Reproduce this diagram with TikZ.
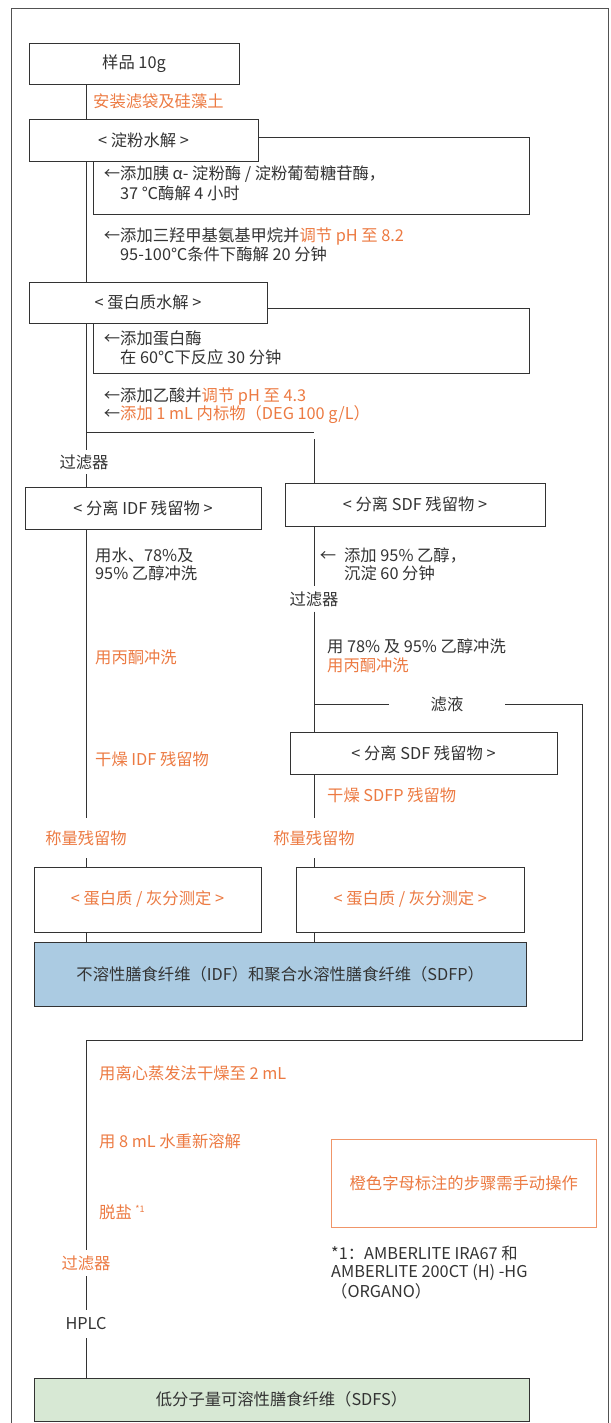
\documentclass[tikz,border=0pt]{standalone}
\usepackage{fontspec}
\setmainfont{Noto Sans CJK SC}
\usetikzlibrary{calc}
\definecolor{org}{HTML}{EC7A42}
\definecolor{lc}{HTML}{333333}
\definecolor{bluef}{HTML}{ABCBE2}
\definecolor{greenf}{HTML}{D7E8D4}
\begin{document}
\begin{tikzpicture}[x=1pt,y=-1pt,
  every node/.style={font=\fontsize{16.3}{19}\selectfont, text=lc},
  stepbox/.style={draw=lc, line width=0.9pt, fill=white, inner sep=0pt},
  notebox/.style={draw=lc, line width=0.9pt, fill=white, inner sep=0pt},
  txt/.style={anchor=west, inner sep=0pt},
  o/.style={text=org},
  ln/.style={draw=lc, line width=0.9pt},
  onl/.style={inner xsep=0pt, inner ysep=#1},
]
\useasboundingbox (0,0) rectangle (610,1423);
\draw[draw=lc!85, line width=0.9pt] (11,8) rectangle (608.5,1445);

\coordinate (mx) at (86,0);
\coordinate (rx) at (314,0);

% note boxes
\node[notebox, minimum width=436pt, minimum height=77pt] (nb1) at (311,175.5) {};
\node[notebox, minimum width=436pt, minimum height=65pt] (nb2) at (311,340.5) {};

% main boxes
\node[stepbox, minimum width=210pt, minimum height=41pt] (s1) at (134,63.5) {样品 10g};
\node[stepbox, minimum width=229pt, minimum height=42pt] (s2) at (143.5,140) {< 淀粉水解 >};
\node[stepbox, minimum width=238pt, minimum height=41pt] (s3) at (148,302.5) {< 蛋白质水解 >};
\node[stepbox, minimum width=236pt, minimum height=42pt] (idf) at (143,508) {< 分离 IDF 残留物 >};
\node[stepbox, minimum width=260pt, minimum height=43pt] (sdf) at (415,504.5) {< 分离 SDF 残留物 >};
\node[stepbox, minimum width=267pt, minimum height=42pt] (sdf2) at (423.5,753) {< 分离 SDF 残留物 >};
\node[stepbox, minimum width=227pt, minimum height=65pt, text=org] (p1) at (147.5,899.5) {< 蛋白质 / 灰分测定 >};
\node[stepbox, minimum width=227.5pt, minimum height=65pt, text=org] (p2) at (410.25,899.5) {< 蛋白质 / 灰分测定 >};
\node[stepbox, fill=bluef, minimum width=492.5pt, minimum height=64pt] (blue) at (280.25,974) {不溶性膳食纤维（IDF）和聚合水溶性膳食纤维（SDFP）};
\node[stepbox, fill=greenf, minimum width=495pt, minimum height=43pt] (green) at (281.5,1399.5) {低分子量可溶性膳食纤维（SDFS）};
\node[stepbox, draw=org!80, text=org, minimum width=264.5pt, minimum height=88pt] (man) at (463.75,1183) {橙色字母标注的步骤需手动操作};

% labels placed on the lines
\node[onl=4.5pt] (filt1) at (84,462) {过滤器};
\node[onl=5pt] (filt2) at (314,599) {过滤器};
\node[onl=12.5pt, text=org] (wl) at (86,838) {称量残留物};
\node[onl=12.5pt, text=org] (wr) at (314,838) {称量残留物};
\node[inner ysep=0pt, inner xsep=41.5pt] (ly) at (447,704) {滤液};
\node[onl=5.5pt, text=org] (filt3) at (86,1263) {过滤器};
\node[onl=8pt] (hplc) at (86,1324) {HPLC};

% connectors
\coordinate (j1) at (86,432);
\coordinate (j1r) at (314,432);
\coordinate (j1d) at (314,439);
\coordinate (j2) at (314,704);
\coordinate (c1) at (582,704);
\coordinate (c2) at (582,1040);
\coordinate (c3) at (86,1040);
\draw[ln] (s1.south -| mx) -- (s2.north -| mx);
\draw[ln] (s2.south -| mx) -- (s3.north -| mx);
\draw[ln] (s3.south -| mx) -- (j1) -- (j1r);
\draw[ln] (j1) -- (filt1.north -| mx);
\draw[ln] (filt1.south -| mx) -- (idf.north -| mx);
\draw[ln] (j1d) -- (sdf.north -| rx);
\draw[ln] (idf.south -| mx) -- (wl.north -| mx);
\draw[ln] (wl.south -| mx) -- (p1.north -| mx);
\draw[ln] (p1.south -| mx) -- (blue.north -| mx);
\draw[ln] (sdf.south -| rx) -- (filt2.north -| rx);
\draw[ln] (filt2.south -| rx) -- (sdf2.north -| rx);
\draw[ln] (j2) -- (ly.west);
\draw[ln] (ly.east) -- (c1) -- (c2) -- (c3) -- (filt3.north -| mx);
\draw[ln] (sdf2.south -| rx) -- (wr.north -| rx);
\draw[ln] (wr.south -| rx) -- (p2.north -| rx);
\draw[ln] (p2.south -| rx) -- (blue.north -| rx);
\draw[ln] (filt3.south -| mx) -- (hplc.north -| mx);
\draw[ln] (hplc.south -| mx) -- (green.north -| mx);

% texts
\node[txt, o] (t0) at (93,101) {安装滤袋及硅藻土};
\node[txt] (t1) at (120,174) {\llap{←}添加胰 α- 淀粉酶 / 淀粉葡萄糖苷酶，};
\node[txt] (t2) at (120,193) {37 ℃酶解 4 小时};
\node[txt] (t3) at (120,236) {\llap{←}添加三羟甲基氨基甲烷并\textcolor{org}{调节 pH 至 8.2}};
\node[txt] (t4) at (120,254) {95-100℃条件下酶解 20 分钟};
\node[txt] (t5) at (120,338) {\llap{←}添加蛋白酶};
\node[txt] (t6) at (120,357) {在 60℃下反应 30 分钟};
\node[txt] (t7) at (120,396) {\llap{←}添加乙酸并\textcolor{org}{调节 pH 至 4.3}};
\node[txt] (t8) at (120,415) {\llap{←}\textcolor{org}{添加 1 mL 内标物（DEG 100 g/L）}};
\node[txt] (t9) at (95,555) {用水、78\%及};
\node[txt] (t10) at (95,573) {95\% 乙醇冲洗};
\node[txt] (t11) at (344,555) {\llap{←\hspace{8pt}}添加 95\% 乙醇，};
\node[txt] (t12) at (344,573) {沉淀 60 分钟};
\node[txt] (t13) at (327,646) {用 78\% 及 95\% 乙醇冲洗};
\node[txt, o] (t14) at (327,665) {用丙酮冲洗};
\node[txt, o] (t15) at (95,657) {用丙酮冲洗};
\node[txt, o] (t16) at (95,759) {干燥 IDF 残留物};
\node[txt, o] (t17) at (327,795) {干燥 SDFP 残留物};
\node[txt, o] (t18) at (99,1073) {用离心蒸发法干燥至 2 mL};
\node[txt, o] (t19) at (99,1141) {用 8 mL 水重新溶解};
\node[txt, o] (t20) at (99,1212) {脱盐 \raisebox{6pt}{\fontsize{9}{9}\selectfont *1}};
\node[txt] (t21) at (331,1253) {*1：AMBERLITE IRA67 和};
\node[txt] (t22) at (331,1272) {AMBERLITE 200CT (H) -HG};
\node[txt] (t23) at (331,1291) {（ORGANO）};
\end{tikzpicture}
\end{document}
